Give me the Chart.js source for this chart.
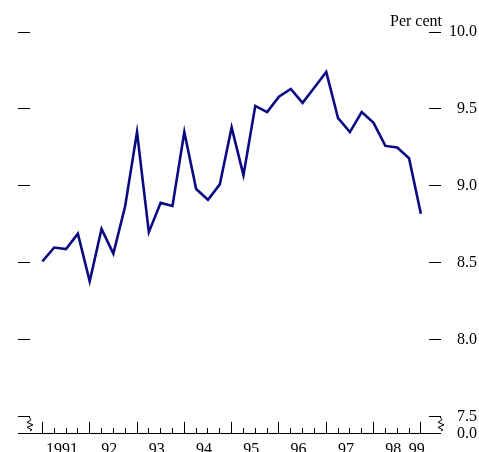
<!DOCTYPE html>
<html>
<head>
<meta charset="utf-8">
<script src="https://cdn.jsdelivr.net/npm/chart.js@4.4.1/dist/chart.umd.min.js"></script>
<style>
  html, body { margin: 0; padding: 0; background: #fff; overflow: hidden; }
  #wrap { width: 479px; height: 452px; overflow: hidden; }
</style>
</head>
<body>
<div id="wrap"><canvas id="chart" width="479" height="477"></canvas></div>
<script>
// quarterly observations, 1991 Q1 to 1999 Q1
const quarters = [
  '1991Q1', '1991Q2', '1991Q3', '1991Q4',
  '1992Q1', '1992Q2', '1992Q3', '1992Q4',
  '1993Q1', '1993Q2', '1993Q3', '1993Q4',
  '1994Q1', '1994Q2', '1994Q3', '1994Q4',
  '1995Q1', '1995Q2', '1995Q3', '1995Q4',
  '1996Q1', '1996Q2', '1996Q3', '1996Q4',
  '1997Q1', '1997Q2', '1997Q3', '1997Q4',
  '1998Q1', '1998Q2', '1998Q3', '1998Q4',
  '1999Q1'
];
const rates = [
  8.51, 8.60, 8.59, 8.69,
  8.38, 8.72, 8.56, 8.87,
  9.35, 8.70, 8.89, 8.87,
  9.35, 8.98, 8.91, 9.01,
  9.38, 9.07, 9.52, 9.48,
  9.58, 9.63, 9.54, 9.64,
  9.74, 9.44, 9.35, 9.48,
  9.41, 9.26, 9.25, 9.18,
  8.82
];
const yearLabels = ['1991', '92', '93', '94', '95', '96', '97', '98', '99'];
const yTickValues = [7.5, 8.0, 8.5, 9.0, 9.5, 10.0];
const yBreakLabel = '0.0';

// axis break: bottom of the plot stands for zero
const Y_MIN = 7.39;
const Y_MAX = 10.0;
const FIRST_YEAR = 1991;

const toX = q => Number(q.slice(0, 4)) + (Number(q.slice(5)) - 1) / 4;
const points = quarters.map((q, i) => ({ x: toX(q), y: rates[i] }));

const quarterTicks = [];
for (let i = 0; i <= (yearLabels.length - 1) * 4; i++) {
  quarterTicks.push({ value: FIRST_YEAR + i / 4 });
}
const yTicks = [{ value: Y_MIN }].concat(yTickValues.map(v => ({ value: v })));

const font = { family: "'Liberation Serif', 'Times New Roman', serif", size: 16 };

const decor = {
  id: 'decor',
  afterDraw(chart) {
    const { ctx, chartArea, scales } = chart;
    const yTop = scales.y.getPixelForValue(7.5);
    const yBot = chartArea.bottom;
    ctx.save();
    ctx.strokeStyle = '#000';
    ctx.lineWidth = 1;
    // zigzag break marks on both sides
    [chartArea.left, chartArea.right + 12].forEach(x0 => {
      ctx.beginPath();
      ctx.moveTo(x0 - 1, yTop);
      ctx.lineTo(x0 + 1, yTop + 3);
      ctx.lineTo(x0 - 3, yTop + 5.5);
      ctx.lineTo(x0 + 3, yTop + 8);
      ctx.lineTo(x0 - 3, yTop + 10.5);
      ctx.lineTo(x0 + 2, yTop + 13);
      ctx.lineTo(x0, yBot - 3);
      ctx.stroke();
    });
    // unit label
    ctx.fillStyle = '#000';
    ctx.font = "16px 'Liberation Serif', 'Times New Roman', serif";
    ctx.textAlign = 'right';
    ctx.textBaseline = 'alphabetic';
    ctx.fillText('Per cent', chartArea.right + 13, 26);
    ctx.restore();
  }
};

new Chart(document.getElementById('chart'), {
  type: 'line',
  data: {
    datasets: [{
      data: points,
      borderColor: '#0a0a82',
      borderWidth: 2.6,
      pointRadius: 0,
      tension: 0,
      yAxisID: 'y'
    }]
  },
  options: {
    responsive: false,
    animation: false,
    devicePixelRatio: 1,
    layout: { padding: { top: 32, left: 18, right: 2, bottom: 0 } },
    plugins: { legend: { display: false }, tooltip: { enabled: false } },
    scales: {
      x: {
        type: 'linear',
        min: 1990.738,
        max: 1999.172,
        afterBuildTicks: scale => { scale.ticks = quarterTicks.map(t => ({ value: t.value })); },
        grid: {
          drawOnChartArea: false,
          tickLength: -12,
          tickColor: '#000',
          tickWidth: 1,
          tickBorderDash: c => (c.tick && Number.isInteger(c.tick.value)) ? [] : [6, 100]
        },
        border: { display: true, color: '#000', width: 1 },
        ticks: {
          autoSkip: false,
          maxRotation: 0,
          minRotation: 0,
          padding: 18,
          labelOffset: -4,
          color: '#000',
          font,
          callback: v => {
            const yr = Math.floor(v);
            const idx = yr - FIRST_YEAR;
            if (idx === yearLabels.length - 1 && v === yr) return yearLabels[idx];
            if (idx < yearLabels.length - 1 && v - yr === 0.5) return yearLabels[idx];
            return '';
          }
        }
      },
      y: {
        position: 'right',
        min: Y_MIN,
        max: Y_MAX,
        afterBuildTicks: scale => { scale.ticks = yTicks.map(t => ({ value: t.value })); },
        grid: { drawOnChartArea: false, tickLength: 12, tickColor: '#000' },
        border: { display: false },
        ticks: {
          autoSkip: false,
          crossAlign: 'far',
          padding: 4,
          color: '#000',
          font,
          callback: v => v === Y_MIN ? yBreakLabel : v.toFixed(1)
        }
      },
      yl: {
        position: 'left',
        min: Y_MIN,
        max: Y_MAX,
        afterBuildTicks: scale => { scale.ticks = yTicks.map(t => ({ value: t.value })); },
        grid: { drawOnChartArea: false, tickLength: 12, tickColor: '#000' },
        border: { display: false },
        ticks: { display: false }
      }
    }
  },
  plugins: [decor]
});
</script>
</body>
</html>
